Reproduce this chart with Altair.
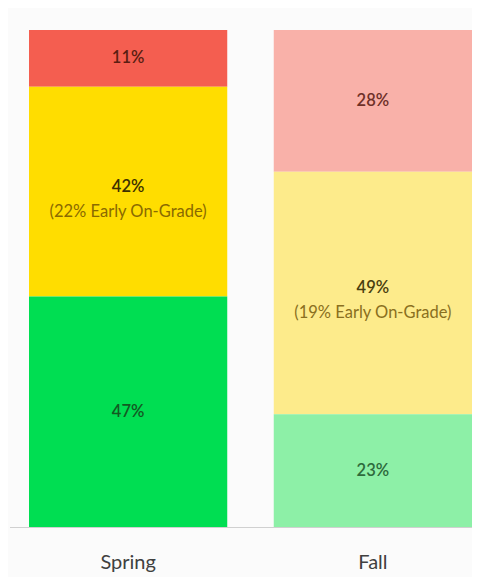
import altair as alt
import pandas as pd

seasons = ["Spring", "Spring", "Spring", "Fall", "Fall", "Fall"]
levels = ["Below", "Near", "On", "Below", "Near", "On"]
values = [11.4, 42.2, 46.4, 28.5, 48.8, 22.7]
labels = ["11%", "42%", "47%", "28%", "49%", "23%"]
sublabels = ["", "(22% Early On-Grade)", "", "", "(19% Early On-Grade)", ""]
order_idx = [2, 1, 0, 2, 1, 0]

keys = [s + "-" + l for s, l in zip(seasons, levels)]
fill_colors = ["#F45E50", "#FFDD00", "#00DE52", "#F9B1A9", "#FDEB8B", "#8DF0A7"]
text_colors = ["#5A1E12", "#3D3000", "#135A22", "#6E3028", "#4A3F10", "#2E6A3C"]
sub_colors = ["#8A6A00", "#8A6A00", "#8A6A00", "#8A6F20", "#8A6F20", "#8A6F20"]

df = pd.DataFrame({
    "season": seasons, "level": levels, "value": values, "label": labels,
    "sub": sublabels, "ord": order_idx, "key": keys,
    "tcol": text_colors, "scol": sub_colors,
})

FONT = "Lato"

base = alt.Chart(df).transform_stack(
    stack="value", groupby=["season"], as_=["y0", "y1"],
    sort=[alt.SortField("ord", order="ascending")]
).transform_calculate(mid="(datum.y0 + datum.y1) / 2")

xenc = alt.X("season:N", sort=["Spring", "Fall"],
             scale=alt.Scale(paddingInner=0.19, paddingOuter=0),
             axis=alt.Axis(title=None, labelAngle=0, labelFont=FONT, labelFontSize=20,
                           labelColor="#404040", labelPadding=25, domain=False,
                           ticks=False, grid=False))
yscale = alt.Scale(domain=[0, 100], nice=False, zero=True)

bars = base.mark_bar(stroke=None).encode(
    x=xenc,
    y=alt.Y("y0:Q", scale=yscale, axis=None),
    y2="y1:Q",
    color=alt.Color("key:N", scale=alt.Scale(domain=keys, range=fill_colors), legend=None),
)

single = base.transform_filter("datum.sub == ''").mark_text(
    font=FONT, fontSize=16.5, fontWeight=600, baseline="middle", align="center"
).encode(
    x=alt.X("season:N", sort=["Spring", "Fall"]),
    y=alt.Y("mid:Q", scale=yscale),
    text="label:N",
    color=alt.Color("tcol:N", scale=None),
)

main2 = base.transform_filter("datum.sub != ''").mark_text(
    font=FONT, fontSize=16.5, fontWeight=600, baseline="middle", align="center", dy=-5
).encode(
    x=alt.X("season:N", sort=["Spring", "Fall"]),
    y=alt.Y("mid:Q", scale=yscale),
    text="label:N",
    color=alt.Color("tcol:N", scale=None),
)

sub = base.transform_filter("datum.sub != ''").mark_text(
    font=FONT, fontSize=16.5, baseline="middle", align="center", dy=20
).encode(
    x=alt.X("season:N", sort=["Spring", "Fall"]),
    y=alt.Y("mid:Q", scale=yscale),
    text="sub:N",
    color=alt.Color("scol:N", scale=None),
)

baseline = alt.Chart(df).mark_rule(color="#D0D0D0", strokeWidth=1).encode(
    x=alt.value(-19), x2=alt.value(452), y=alt.value(497.5)
)

chart = alt.layer(bars, baseline, single, main2, sub).properties(
    width=443, height=497,
    autosize=alt.AutoSizeParams(type="none"),
    padding={"left": 21, "top": 22, "right": 0, "bottom": 50},
    background="#FBFBFB",
).configure_view(stroke=None)

chart.save("out.html", embed_options={"renderer": "svg", "actions": False})
